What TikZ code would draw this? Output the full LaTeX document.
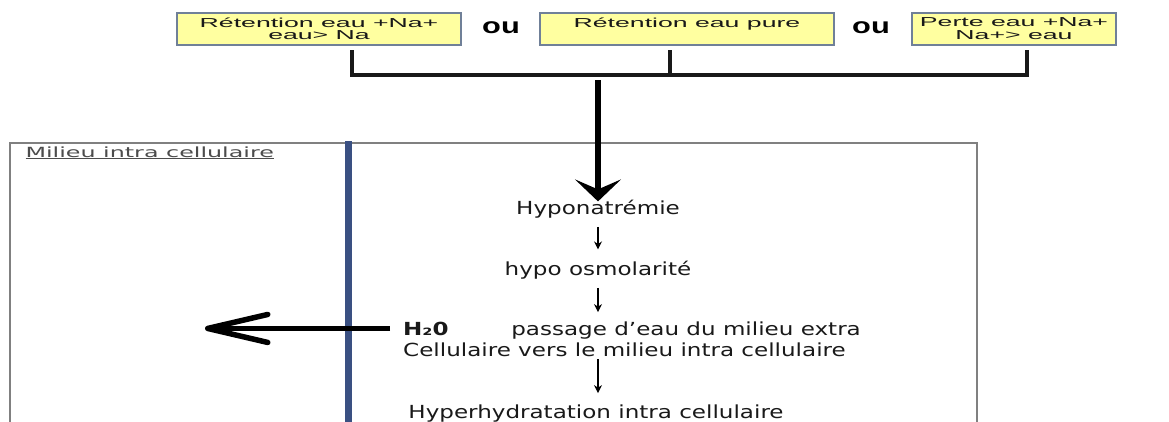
\documentclass[tikz,border=0pt]{standalone}
\usepackage{fontspec}
\usepackage{tikz}
\usetikzlibrary{arrows.meta}
\newfontfamily\boxfont[FakeStretch=2.05]{Liberation Sans}
\newfontfamily\oufont[FakeStretch=1.4]{Liberation Sans}
\newfontfamily\flowfont[FakeStretch=1.28]{DejaVu Sans}
\newfontfamily\milfont[FakeStretch=1.7]{DejaVu Sans}
\definecolor{boxyellow}{RGB}{255,255,160}
\definecolor{boxedge}{RGB}{112,128,152}
\definecolor{membrane}{RGB}{58,80,130}
\definecolor{txt}{RGB}{25,25,25}

\begin{document}
\begin{tikzpicture}[x=1pt,y=1pt,
  cause/.style={draw=boxedge, line width=1.6pt, fill=boxyellow, anchor=north,
    minimum height=32pt, inner ysep=2pt, align=center, text=txt,
    font=\boxfont\fontsize{13}{12.5}\selectfont},
  orword/.style={font=\oufont\bfseries\fontsize{22}{22}\selectfont, anchor=base},
  flow/.style={inner sep=6pt, text=txt, font=\flowfont\fontsize{18}{20}\selectfont},
  bar/.style={line width=4pt, draw=black!90},
  stepline/.style={line width=1.6pt, -{Stealth[length=8pt,width=8pt]}, shorten <=3pt, shorten >=5pt}]
\useasboundingbox (0,0) rectangle (1169,-421);
\fill[white] (0,0) rectangle (1169,-421);
\begin{scope}
\clip (0,0) rectangle (1169,-421);
\draw[gray, line width=1.4pt] (10,-143) rectangle (977,-440);
\draw[membrane, line width=7pt] (348,-141) -- (348,-440);
\end{scope}

\node[cause, minimum width=284pt] (r1) at (319,-12) {Rétention eau +Na+\\eau> Na};
\node[cause, minimum width=294pt] (r2) at (687,-12) {Rétention eau pure\\~};
\node[cause, minimum width=204pt] (r3) at (1014,-12) {Perte eau +Na+\\Na+> eau};
\node[orword] (ou1) at (501,-33) {ou};
\node[orword] (ou2) at (871,-33) {ou};

\coordinate (s1) at (352,-50);
\coordinate (s2) at (670,-50);
\coordinate (s3) at (1027,-50);
\draw[bar] (s1) -- ++(0,-25) -| (s3);
\draw[bar] (s2) -- ++(0,-25);

\node[anchor=base west, text=black!70, font=\milfont\fontsize{14}{16}\selectfont] (milieu) at (22,-157) {\underline{Milieu intra cellulaire}};

\node[flow, anchor=base] (hypo) at (598,-214) {Hyponatrémie};
\node[flow, anchor=base] (osmo) at (598,-275) {hypo osmolarité};
\node[flow, anchor=base west, inner sep=3pt] (water) at (400,-335) {\bfseries H₂0};
\node[flow, anchor=base east, inner sep=3pt] (pass) at (864,-335) {passage d’eau du milieu extra};
\node[flow, anchor=base west, inner sep=3pt] (cell) at (400,-356) {Cellulaire vers le milieu intra cellulaire};
\node[flow, anchor=base] (hyper) at (596,-418) {Hyperhydratation intra cellulaire};

\coordinate (join) at (598,-80);
\coordinate (tip) at (205,-333);
\draw[line width=6pt, -{Stealth[length=22pt,width=46pt,inset=10pt]}] (join) -- ([yshift=-8pt]hypo.north);
\draw[stepline] (hypo) -- (osmo);
\draw[stepline, shorten >=6pt] (osmo) -- (osmo |- pass.north);
\draw[stepline, line width=2pt, shorten <=0pt] (hypo |- cell.south) -- (hypo |- hyper.north);
\draw[line width=5.5pt, -{Straight Barb[length=60pt,width=28pt,round]}, shorten <=10pt] (water.west) -- (water.west -| tip);
\end{tikzpicture}
\end{document}
